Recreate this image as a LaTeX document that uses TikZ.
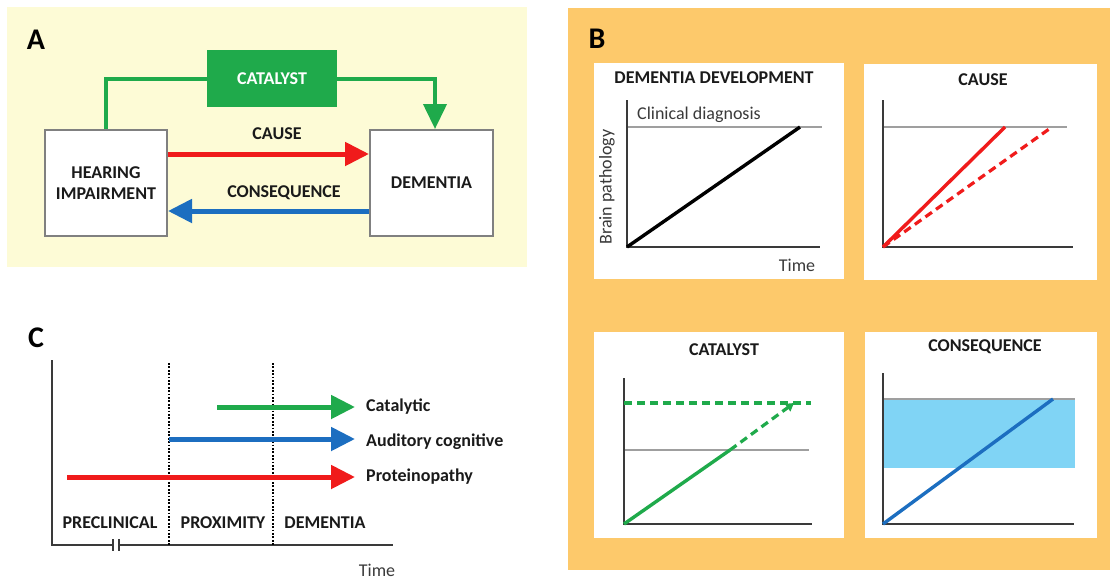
\documentclass[tikz,border=0pt]{standalone}
\usepackage{fontspec}
\setmainfont{Carlito}
\usetikzlibrary{arrows.meta,calc}
\definecolor{bgA}{HTML}{FDFBD6}
\definecolor{bgB}{HTML}{FDC96B}
\definecolor{gr}{HTML}{1FAA4B}
\definecolor{rd}{HTML}{F01B1B}
\definecolor{bl}{HTML}{1C6EC0}
\definecolor{band}{HTML}{80D4F5}
\definecolor{bx}{HTML}{808080}
\definecolor{ax}{HTML}{3A3A3A}
\definecolor{txt}{HTML}{1A1A1A}
\begin{document}
\begin{tikzpicture}[x=1pt,y=-1pt,
  every node/.style={font=\fontsize{18}{21}\selectfont, text=txt},
  box/.style={draw=bx, line width=2pt, fill=white, minimum width=122pt, minimum height=106pt, align=center, font=\fontsize{18}{21}\selectfont\bfseries},
  lbl/.style={font=\fontsize{18}{21}\selectfont\bfseries},
  panelbox/.style={fill=white, draw=none, anchor=north west, inner sep=0pt},
  big/.style={font=\fontsize{30}{32}\selectfont\bfseries, text=black},
  fat/.style={line width=5pt, -{Triangle[length=24pt,width=23pt]}},
  axisline/.style={draw=ax, line width=1.3pt},
  diagline/.style={draw=gray!75, line width=1.1pt},
  plotline/.style={line width=3.4pt},
  dashline/.style={line width=3.2pt, dash pattern=on 8pt off 5pt},
  sidelbl/.style={lbl, anchor=west, inner sep=0pt},
]
\useasboundingbox (0,0) rectangle (1110,581);
% backgrounds
\fill[bgA] (7,7) rectangle (527,267);
\fill[bgB] (568,8) rectangle (1110,570);

% ===== Panel A =====
\node[big] (labA) at (36,40) {A};
\node[box] (hear) at (106,183) {HEARING\\IMPAIRMENT};
\node[box, minimum width=123pt] (dem) at (431.5,183) {DEMENTIA};
\node[fill=gr, draw=none, minimum width=130pt, minimum height=57pt, font=\fontsize{18}{21}\selectfont\bfseries, text=white] (cat) at (272,78.5) {CATALYST};
\draw[gr, line width=4pt] (hear.north) |- (cat.west);
\draw[gr, line width=4pt, -{Triangle[length=25pt,width=23pt]}] (cat.east) -| ([xshift=3.5pt]dem.north);
\node[lbl] (causeT) at (277,134) {CAUSE};
\node[lbl] (consT) at (284,193) {CONSEQUENCE};
\draw[rd, fat] ([yshift=29pt]hear.east) -- ([yshift=29pt]dem.west);
\draw[bl, fat] ([yshift=-28pt]dem.west) -- ([yshift=-28pt]hear.east);

% ===== Panel B =====
\node[big] (labB) at (597,39) {B};
\node[panelbox, minimum width=250pt, minimum height=216pt] (p1) at (594,63) {};
\node[panelbox, minimum width=233pt, minimum height=216pt] (p2) at (864,64) {};
\node[panelbox, minimum width=250pt, minimum height=206pt] (p3) at (594,332) {};
\node[panelbox, minimum width=232pt, minimum height=206pt] (p4) at (865,332) {};

% chart 1
\node[lbl] (t1) at (714,78) {DEMENTIA DEVELOPMENT};
\draw[diagline] (627,127) -- (822,127);
\draw[axisline] (627,100) -- (627,247) -- (820,247);
\draw[plotline, black] (627,247) -- (800,127);
\node[anchor=west, inner sep=0pt, text=ax] (clin) at (637,115) {Clinical diagnosis};
\node[rotate=90, text=ax] (brain) at (607,187) {Brain pathology};
\node[text=ax] (time1) at (797,265) {Time};

% chart 2
\node[lbl] (t2) at (983,80) {CAUSE};
\draw[diagline] (883,127) -- (1067,127);
\draw[axisline] (883,100) -- (883,247) -- (1073,247);
\draw[plotline, rd] (883,247) -- (1005,127);
\draw[dashline, rd] (883,247) -- (1052,127);

% chart 3
\node[lbl] (t3) at (724,350) {CATALYST};
\draw[diagline] (624,450) -- (809,450);
\draw[axisline] (624,378) -- (624,524) -- (812,524);
\draw[dashline, gr] (624,403) -- (811,403);
\draw[plotline, gr] (624,524) -- (730,450);
\draw[dashline, gr, -{Triangle[length=8pt,width=9pt]}] (730,450) -- (794,403);

% chart 4
\node[lbl] (t4) at (985,347) {CONSEQUENCE};
\fill[band] (883,399) rectangle (1075,468);
\draw[diagline] (883,399) -- (1075,399);
\draw[axisline] (883,373) -- (883,524) -- (1074,524);
\draw[plotline, bl] (883,524) -- (1053,399);

% ===== Panel C =====
\node[big] (labC) at (36,338) {C};
\draw[axisline] (52,360) -- (52,545) -- (113,545);
\draw[axisline] (119,545) -- (393,545);
\draw[axisline] (113,539) -- (113,551);
\draw[axisline] (119,539) -- (119,551);
\draw[black, line width=1.8pt, dash pattern=on 1.8pt off 1.6pt] (169,363) -- (169,545);
\draw[black, line width=1.8pt, dash pattern=on 1.8pt off 1.6pt] (273,363) -- (273,545);

\coordinate (gs) at (217,407); \coordinate (ge) at (355,407);
\coordinate (bs) at (169,439); \coordinate (be) at (355,439);
\coordinate (rs) at (67,477);  \coordinate (re) at (355,477);
\draw[gr, fat] (gs) -- (ge);
\draw[bl, fat] (bs) -- (be);
\draw[rd, fat] (rs) -- (re);
\node[sidelbl] (catal) at (366,407) {Catalytic};
\node[sidelbl] (audit) at (366,442) {Auditory cognitive};
\node[sidelbl] (prot) at (366,477) {Proteinopathy};

\node[lbl] (pre) at (110,523) {PRECLINICAL};
\node[lbl] (prox) at (223,523) {PROXIMITY};
\node[lbl] (demC) at (325,523) {DEMENTIA};
\node[text=ax, inner sep=0pt] (timeC) at (377,570) {Time};
\end{tikzpicture}
\end{document}
